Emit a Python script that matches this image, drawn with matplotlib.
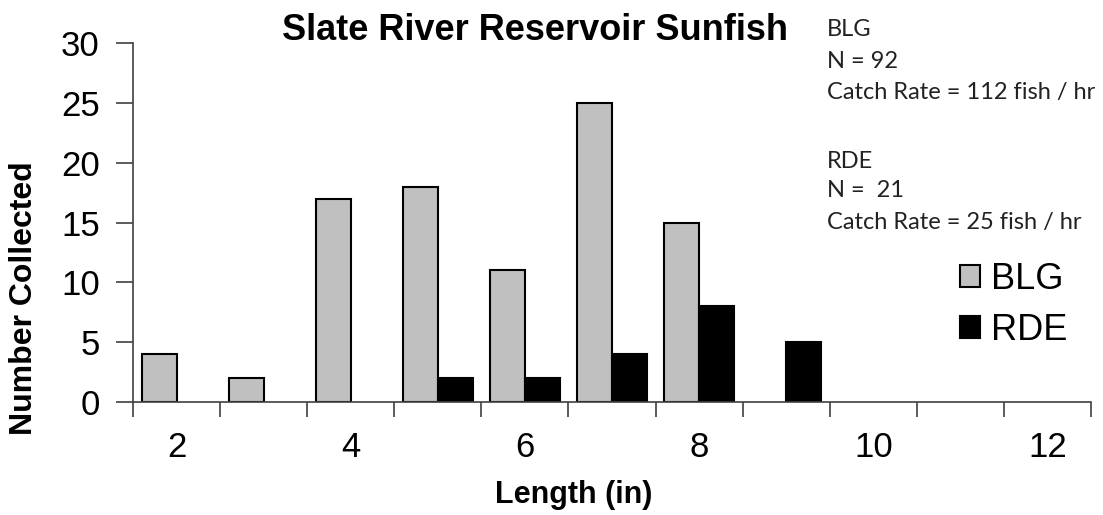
import matplotlib
matplotlib.use("Agg")
import matplotlib.pyplot as plt
import numpy as np
from matplotlib.patches import Patch

lengths = [2, 3, 4, 5, 6, 7, 8, 9, 10, 11, 12]
blg = [4, 2, 17, 18, 11, 25, 15, 0, 0, 0, 0]
rde = [0, 0, 0, 2, 2, 4, 8, 5, 0, 0, 0]
tick_labels = ["2", "4", "6", "8", "10", "12"]
series_names = ["BLG", "RDE"]
info_blg = ["BLG", "N = 92", "Catch Rate = 112 fish / hr"]
info_rde = ["RDE", "N =  21", "Catch Rate = 25 fish / hr"]

W, H = 1103, 515
fig = plt.figure(figsize=(W / 100, H / 100), dpi=100)
ax = fig.add_axes([133 / W, (H - 402) / H, (1091 - 133) / W, (402 - 43) / H])

x = np.arange(len(lengths))
bw = 0.4
b1 = ax.bar(x - bw / 2, blg, width=bw, color="#C0C0C0", edgecolor="black", linewidth=1.5, label=series_names[0])
b2 = ax.bar(x + bw / 2, rde, width=bw, color="black", edgecolor="black", linewidth=1.5, label=series_names[1])
for cont in (b1, b2):
    for p in cont.patches:
        if p.get_height() == 0:
            p.set_visible(False)

ax.set_xlim(-0.5, len(lengths) - 0.5)
ax.set_ylim(0, 30)
ax.set_yticks(np.arange(0, 31, 5))
ax.set_xticks(np.arange(-0.5, len(lengths), 1.0))
ax.set_xticklabels([])
ax.set_xticks(np.arange(0, len(lengths), 2), minor=True)
ax.set_xticklabels(tick_labels, minor=True)
ax.tick_params(axis="x", which="major", direction="out", length=11, width=1.2, color="#404040")
ax.tick_params(axis="x", which="minor", length=0, pad=21, labelsize=25)
ax.tick_params(axis="y", direction="out", length=12, width=1.2, color="#404040", labelsize=25, pad=12)
for lab in ax.get_xticklabels(minor=True) + ax.get_yticklabels():
    lab.set_family("Liberation Sans")

for s in ["top", "right"]:
    ax.spines[s].set_visible(False)
for s in ["left", "bottom"]:
    ax.spines[s].set_color("#404040")
    ax.spines[s].set_linewidth(1.2)

fig.text(535 / W, 1 - 31 / H, "Slate River Reservoir Sunfish", ha="center", va="center",
         fontsize=26, fontweight="bold", family="Liberation Sans")
fig.text(24 / W, 1 - 298 / H, "Number Collected", rotation=90, ha="center", va="center",
         fontsize=23, fontweight="bold", family="Liberation Sans")
fig.text(574 / W, 1 - 495 / H, "Length (in)", ha="center", va="center",
         fontsize=22, fontweight="bold", family="Liberation Sans")

ys_blg = [30, 61, 92]
ys_rde = [161, 191, 222]
for txt, yy in zip(info_blg + info_rde, ys_blg + ys_rde):
    fig.text(827 / W, 1 - yy / H, txt, ha="left", va="center", fontsize=17,
             family="Lato", color="#222222")

handles = [Patch(facecolor="#C0C0C0", edgecolor="black", linewidth=1.5),
           Patch(facecolor="black", edgecolor="black", linewidth=1.5)]
fig.legend(handles, series_names, loc="upper left", bbox_to_anchor=(960 / W, 1 - 262 / H),
           frameon=False, prop={"family": "Liberation Sans", "size": 26},
           handlelength=0.55, handleheight=0.55, handletextpad=0.3, labelspacing=0.44,
           borderpad=0, borderaxespad=0)

fig.savefig("out.png", dpi=100)
